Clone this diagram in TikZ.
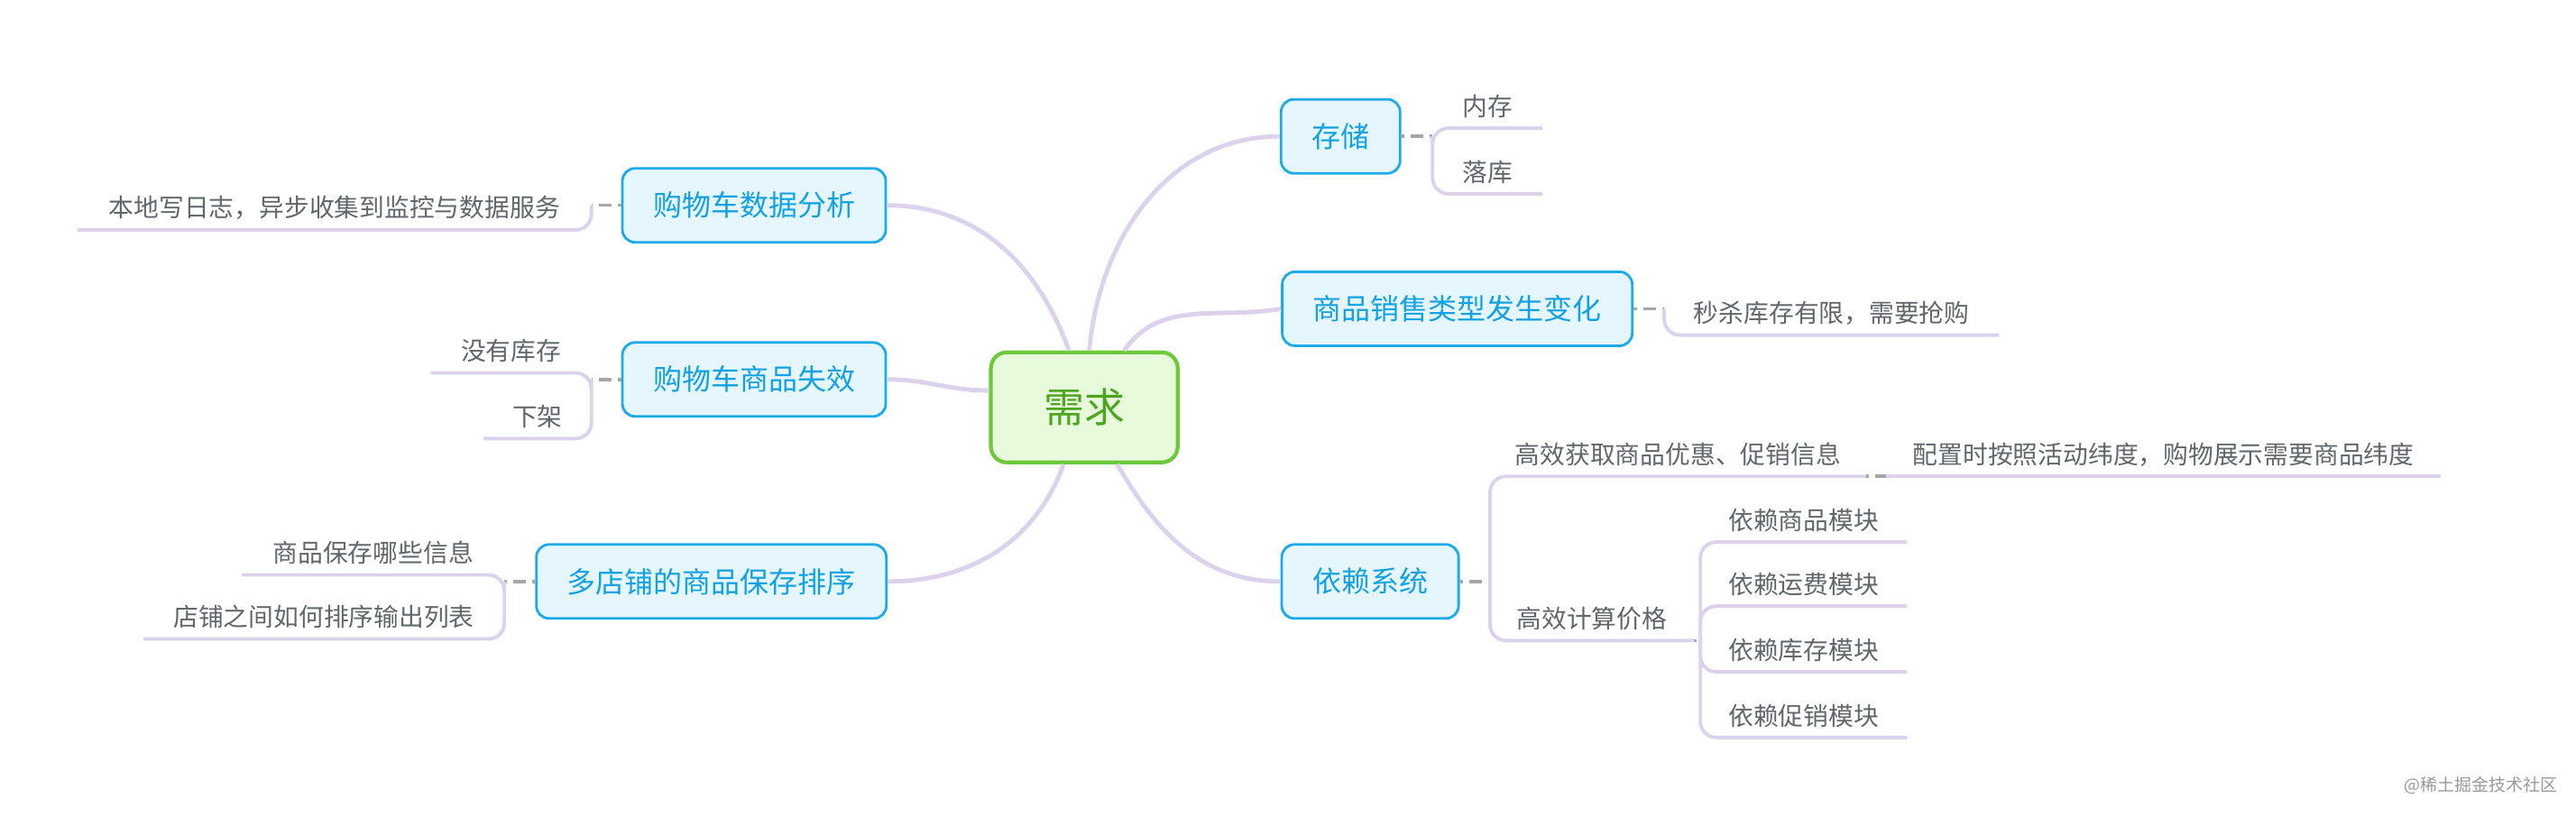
\documentclass[tikz,border=0pt]{standalone}
\usepackage{fontspec}
\setmainfont{Noto Sans CJK SC}
\usetikzlibrary{positioning}

\definecolor{branchcol}{HTML}{DDD2EE}
\definecolor{topicfill}{HTML}{E6F6FE}
\definecolor{topicline}{HTML}{1DAAE9}
\definecolor{topictext}{HTML}{12A1E3}
\definecolor{rootfill}{HTML}{E8FADC}
\definecolor{rootline}{HTML}{6CC93A}
\definecolor{roottext}{HTML}{4BA51E}
\definecolor{leaftext}{HTML}{5E676B}

\tikzset{
  root/.style={draw=rootline,fill=rootfill,line width=1.2pt,rounded corners=5pt,
               minimum width=2.07cm,minimum height=1.22cm,text=roottext,font=\fontsize{12.8}{14}\selectfont},
  topic/.style={draw=topicline,fill=topicfill,line width=0.8pt,rounded corners=4pt,
                minimum height=0.82cm,inner xsep=0.34cm,text=topictext,font=\fontsize{9.1}{10}\selectfont},
  leaf/.style={inner xsep=0pt,inner ysep=3pt,text=leaftext,font=\fontsize{7.9}{9}\selectfont},
  trunk/.style={draw=branchcol,line width=1.4pt},
  branch/.style={draw=branchcol,line width=1.1pt,rounded corners=5pt},
  dashlink/.style={draw=gray!70,line width=1pt,dash pattern=on 1pt off 2pt on 4pt off 2pt}
}

\begin{document}
\begin{tikzpicture}[x=0.01821cm,y=-0.01821cm]
  \useasboundingbox (0,0) rectangle (1568,497);

  % root and topics
  \node[root]  (c)  at (660,248) {需求};
  \node[topic] (st) at (816,83)  {存储};
  \node[topic] (xs) at (887,188) {商品销售类型发生变化};
  \node[topic] (yl) at (834,354) {依赖系统};
  \node[topic] (fx) at (459,125) {购物车数据分析};
  \node[topic] (sx) at (459,231) {购物车商品失效};
  \node[topic] (dd) at (433,354) {多店铺的商品保存排序};

  % trunk curves
  \draw[trunk] (c.85)  to[out=85,in=180]  (st.west);
  \draw[trunk] (c.55)  to[out=55,in=190]  (xs.west);
  \draw[trunk] (c.-60) to[out=-60,in=180] (yl.west);
  \draw[trunk] (c.105) to[out=110,in=0]   (fx.east);
  \draw[trunk] (c.170) to[out=180,in=0]   (sx.east);
  \draw[trunk] (c.-110) to[out=-110,in=0] (dd.east);

  % junctions
  \coordinate (jst) at (872,83);
  \coordinate (jxs) at (1013,188);
  \coordinate (jyl) at (907,354);
  \coordinate (jfx) at (360,125);
  \coordinate (jsx) at (360,231);
  \coordinate (jdd) at (307,354);

  % leaves
  \node[leaf,anchor=south west,minimum width=66*0.01821cm]  (st1) at (872,78)  {内存};
  \node[leaf,anchor=south west,minimum width=66*0.01821cm]  (st2) at (872,118) {落库};
  \node[leaf,anchor=south west,minimum width=203*0.01821cm] (xs1) at (1013,204) {秒杀库存有限，需要抢购};
  \node[leaf,anchor=south east,minimum width=312*0.01821cm] (fx1) at (360,140) {本地写日志，异步收集到监控与数据服务};
  \node[leaf,anchor=south east,minimum width=97*0.01821cm]  (sx1) at (360,227) {没有库存};
  \node[leaf,anchor=south east,minimum width=65*0.01821cm]  (sx2) at (360,267) {下架};
  \node[leaf,anchor=south east,minimum width=159*0.01821cm] (dd1) at (307,350) {商品保存哪些信息};
  \node[leaf,anchor=south east,minimum width=219*0.01821cm] (dd2) at (307,389) {店铺之间如何排序输出列表};
  \node[leaf,anchor=south west,minimum width=228*0.01821cm] (yl1) at (907,290) {高效获取商品优惠、促销信息};
  \node[leaf,anchor=south west,minimum width=123*0.01821cm] (yl2) at (907,390) {高效计算价格};
  \node[leaf,anchor=south west,minimum width=337*0.01821cm] (yl11) at (1148,290) {配置时按照活动纬度，购物展示需要商品纬度};
  \node[leaf,anchor=south west,minimum width=125*0.01821cm] (yl21) at (1035,330) {依赖商品模块};
  \node[leaf,anchor=south west,minimum width=125*0.01821cm] (yl22) at (1035,369) {依赖运费模块};
  \node[leaf,anchor=south west,minimum width=125*0.01821cm] (yl23) at (1035,409) {依赖库存模块};
  \node[leaf,anchor=south west,minimum width=125*0.01821cm] (yl24) at (1035,449) {依赖促销模块};
  \coordinate (jyl1) at (yl1.south east);
  \coordinate (jyl2) at (1035,390);

  % dashed links
  \draw[dashlink] (st.east) -- (jst);
  \draw[dashlink] (xs.east) -- (jxs);
  \draw[dashlink] (yl.east) -- (jyl);
  \draw[dashlink] (fx.west) -- (jfx);
  \draw[dashlink] (sx.west) -- (jsx);
  \draw[dashlink] (dd.west) -- (jdd);
  \draw[dashlink] (jyl1) -- (yl11.south west);
  \draw[dashlink] (yl2.south east) -- (jyl2);

  % brackets and underlines
  \draw[branch] (jst) |- (st1.south east);
  \draw[branch] (jst) |- (st2.south east);
  \draw[branch] (jxs) |- (xs1.south east);
  \draw[branch] (jfx) |- (fx1.south west);
  \draw[branch] (jsx) |- (sx1.south west);
  \draw[branch] (jsx) |- (sx2.south west);
  \draw[branch] (jdd) |- (dd1.south west);
  \draw[branch] (jdd) |- (dd2.south west);
  \draw[branch] (jyl) |- (yl1.south east);
  \draw[branch] (jyl) |- (yl2.south east);
  \draw[branch] (yl11.south west) -- (yl11.south east);
  \draw[branch] (jyl2) |- (yl21.south east);
  \draw[branch] (jyl2) |- (yl22.south east);
  \draw[branch] (jyl2) |- (yl23.south east);
  \draw[branch] (jyl2) |- (yl24.south east);

  \node[text=gray!80,font=\fontsize{5.4}{6}\selectfont] (wm) at (1510,478) {@稀土掘金技术社区};
\end{tikzpicture}
\end{document}
